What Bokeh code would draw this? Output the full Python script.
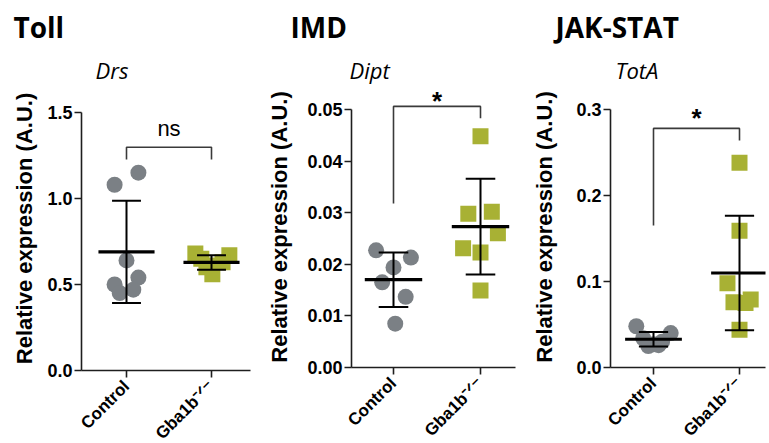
import numpy as np
from bokeh.plotting import figure
from bokeh.layouts import row
from bokeh.models import Range1d, FixedTicker, Label, Title
from bokeh.embed import file_html
from bokeh.resources import INLINE

# ---------------- data ----------------
pathways = ["Toll", "IMD", "JAK-STAT"]
genes = ["Drs", "Dipt", "TotA"]
group_labels = ["Control", "Gba1b\u207b\u141f\u207b"]

drs_control = [1.08, 1.15, 0.64, 0.54, 0.50, 0.45, 0.47]
drs_gba1b = [0.68, 0.67, 0.65, 0.63, 0.61, 0.60, 0.56]
dipt_control = [0.0227, 0.0213, 0.0194, 0.0165, 0.0137, 0.0085]
dipt_gba1b = [0.0448, 0.0298, 0.0302, 0.0260, 0.0231, 0.0223, 0.0149]
tota_control = [0.048, 0.040, 0.034, 0.030, 0.027, 0.025, 0.026]
tota_gba1b = [0.238, 0.159, 0.098, 0.076, 0.079, 0.075, 0.044]

drs_ticks = [0.0, 0.5, 1.0, 1.5]
drs_tick_labels = ["0.0", "0.5", "1.0", "1.5"]
dipt_ticks = [0.0, 0.01, 0.02, 0.03, 0.04, 0.05]
dipt_tick_labels = ["0.00", "0.01", "0.02", "0.03", "0.04", "0.05"]
tota_ticks = [0.0, 0.1, 0.2, 0.3]
tota_tick_labels = ["0.0", "0.1", "0.2", "0.3"]

significance = ["ns", "*", "*"]
# bracket: top, left-leg bottom, right-leg bottom, label baseline
drs_bracket = [1.298, 1.227, 1.227, 1.407]
dipt_bracket = [0.0506, 0.0318, 0.0483, 0.0517]
tota_bracket = [0.278, 0.165, 0.264, 0.2896]

# horizontal scatter offsets (category units)
drs_control_jit = [-0.14, 0.14, 0.0, 0.14, -0.14, -0.08, 0.08]
drs_gba1b_jit = [-0.19, 0.21, -0.12, 0.13, 0.0, -0.06, 0.01]
dipt_control_jit = [-0.2, 0.2, 0.0, -0.13, 0.14, 0.02]
dipt_gba1b_jit = [0.0, -0.14, 0.13, 0.2, -0.2, 0.0, 0.0]
tota_control_jit = [-0.2, 0.2, -0.12, 0.1, 0.0, -0.06, 0.06]
tota_gba1b_jit = [0.0, 0.0, -0.14, -0.07, 0.13, 0.07, 0.0]

# ---------------- style ----------------
GRAY = "#7b8085"
OLIVE = "#a8b134"
AXIS = "#1e1e1e"
SANS = "Liberation Sans"
OPEN = "Open Sans"
FIG_TOP, FRAME_TOP, FIG_BOTTOM = 0, 85, 443

geoms = [
    dict(left=0, axis=81, cat1=126, ppu_x=85, zero=369, ppu_y=172, fright=250, right=255,
         title_x=13, gene_x=95, ylab_standoff=7),
    dict(left=255, axis=351, cat1=393, ppu_x=87, zero=366, ppu_y=5160, fright=515, right=520,
         title_x=290, gene_x=349, ylab_standoff=12),
    dict(left=520, axis=610, cat1=653, ppu_x=86, zero=366, ppu_y=860, fright=765, right=766,
         title_x=555, gene_x=615, ylab_standoff=16),
]

panels = [
    (drs_control, drs_gba1b, drs_control_jit, drs_gba1b_jit, drs_ticks, drs_tick_labels, drs_bracket),
    (dipt_control, dipt_gba1b, dipt_control_jit, dipt_gba1b_jit, dipt_ticks, dipt_tick_labels, dipt_bracket),
    (tota_control, tota_gba1b, tota_control_jit, tota_gba1b_jit, tota_ticks, tota_tick_labels, tota_bracket),
]


def make_panel(i):
    g = geoms[i]
    ctrl, gba, cj, gj, ticks, tlabels, br = panels[i]
    dx = lambda px: 1 + (px - g["cat1"]) / g["ppu_x"]
    dy = lambda py: (g["zero"] - py) / g["ppu_y"]

    p = figure(
        output_backend="svg", toolbar_location=None,
        frame_width=g["fright"] - g["axis"], frame_height=g["zero"] - FRAME_TOP,
        min_border_left=g["axis"] - g["left"], min_border_right=g["right"] - g["fright"],
        min_border_top=FRAME_TOP - FIG_TOP, min_border_bottom=FIG_BOTTOM - g["zero"],
        x_range=Range1d(dx(g["axis"]), dx(g["fright"])),
        y_range=Range1d(0, dy(FRAME_TOP)),
    )
    p.outline_line_color = None
    p.grid.visible = False
    p.background_fill_color = "white"
    p.border_fill_color = "white"

    # titles (gene nearest the frame, pathway above it)
    p.add_layout(Title(text=genes[i], text_font=OPEN, text_font_style="italic",
                       text_font_size="22px", text_color="black", align="left",
                       offset=g["gene_x"] - g["axis"], standoff=3), "above")
    p.add_layout(Title(text=pathways[i], text_font=OPEN, text_font_style="bold",
                       text_font_size="28px", text_color="black", align="left",
                       offset=g["title_x"] - g["axis"], standoff=11), "above")

    # axes
    for ax in (p.xaxis[0], p.yaxis[0]):
        ax.axis_line_color = AXIS
        ax.axis_line_width = 1.6
        ax.major_tick_line_color = AXIS
        ax.major_tick_line_width = 1.6
        ax.major_tick_in = 0
        ax.major_tick_out = 7
        ax.minor_tick_line_color = None
        ax.major_label_text_font = SANS
        ax.major_label_text_font_style = "bold"
        ax.major_label_text_color = "black"
    p.yaxis.major_label_text_font_size = "18px"
    p.yaxis.major_label_standoff = 2
    p.yaxis.ticker = FixedTicker(ticks=ticks)
    p.yaxis.major_label_overrides = {t: l for t, l in zip(ticks, tlabels)}
    p.yaxis.bounds = (ticks[0], ticks[-1])
    p.yaxis.axis_label = "Relative expression (A.U.)"
    p.yaxis.axis_label_text_font = SANS
    p.yaxis.axis_label_text_font_style = "bold"
    p.yaxis.axis_label_text_font_size = "22px"
    p.yaxis.axis_label_text_color = "black"
    p.yaxis.axis_label_standoff = g["ylab_standoff"]
    p.xaxis.ticker = FixedTicker(ticks=[1, 2])
    p.xaxis.major_label_overrides = {1: group_labels[0], 2: group_labels[1]}
    p.xaxis.major_label_orientation = np.pi / 4
    p.xaxis.major_label_text_font_size = "17px"
    p.xaxis.major_label_standoff = 6

    # points
    xs_c = [1 + j for j in cj]
    xs_g = [2 + j for j in gj]
    p.scatter(xs_c, ctrl, marker="circle", size=16, fill_color=GRAY, line_color=None)
    p.scatter(xs_g, gba, marker="square", size=16, fill_color=OLIVE, line_color=None)

    # mean +- SD
    for c, vals in ((1, ctrl), (2, gba)):
        m = float(np.mean(vals))
        s = float(np.std(vals, ddof=1))
        p.segment([c], [m - s], [c], [m + s], line_color="black", line_width=2)
        p.segment([c - 0.17, c - 0.17], [m - s, m + s], [c + 0.17, c + 0.17], [m - s, m + s],
                  line_color="black", line_width=2)
        p.segment([c - 0.33], [m], [c + 0.33], [m], line_color="black", line_width=3.2)

    # significance bracket
    top, lbot, rbot, ty = br
    p.line([1, 1, 2, 2], [lbot, top, top, rbot], line_color="#3a3a3a", line_width=1.6)
    sig = significance[i]
    if sig == "ns":
        p.add_layout(Label(x=1.5, y=ty, text=sig, text_font=SANS, text_font_size="22px",
                           text_align="center", text_baseline="alphabetic", text_color="black"))
    else:
        p.add_layout(Label(x=1.5, y=ty, text=sig, text_font=SANS, text_font_size="26px",
                           text_font_style="bold", text_align="center",
                           text_baseline="alphabetic", text_color="black"))
    return p


figs = [make_panel(i) for i in range(3)]
layout = row(figs, spacing=0)
open("out.html", "w").write(file_html(layout, INLINE))
